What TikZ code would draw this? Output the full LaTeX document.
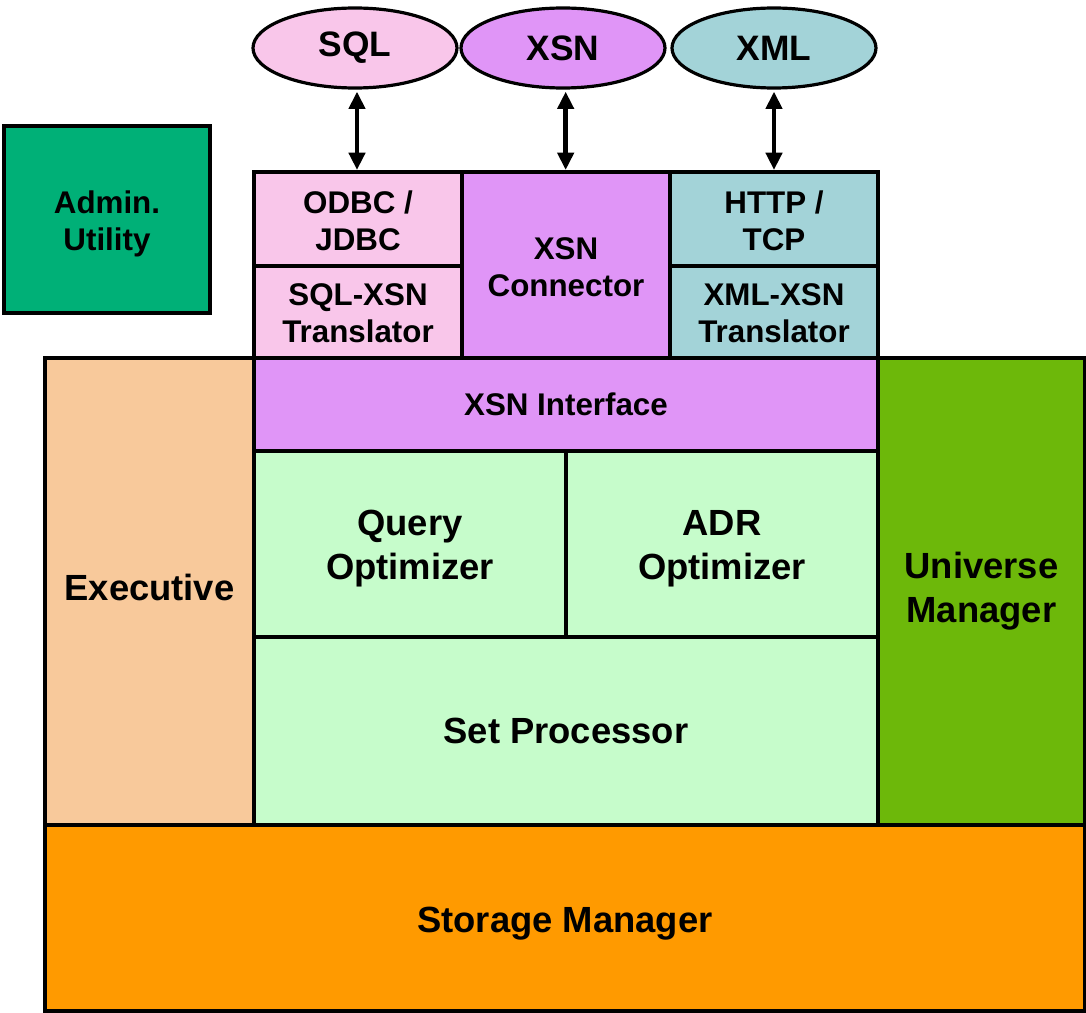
\documentclass[tikz,border=0pt]{standalone}
\usepackage{fontspec}
\setmainfont{Liberation Sans}
\usetikzlibrary{shapes.geometric,fit,arrows.meta}
\definecolor{cpink}{HTML}{F9C6EA}
\definecolor{cviolet}{HTML}{E095F7}
\definecolor{cteal}{HTML}{A3D3D8}
\definecolor{cadmin}{HTML}{00B077}
\definecolor{cexec}{HTML}{F8C99B}
\definecolor{clgreen}{HTML}{C6FCCB}
\definecolor{cuniv}{HTML}{6DB80A}
\definecolor{cstore}{HTML}{FF9A00}
\begin{document}
\begin{tikzpicture}[x=0.75pt,y=-0.75pt,
  blk/.style={draw=black, line width=2.4pt, inner sep=0pt, outer sep=0pt},
  smalltxt/.style={inner sep=0pt, align=center, font=\bfseries\fontsize{23.5}{27.8}\selectfont},
  bigtxt/.style={inner sep=0pt, align=center, font=\bfseries\fontsize{27.3}{33}\selectfont},
  oval/.style={draw=black, line width=2.4pt, ellipse, minimum width=153pt, minimum height=60pt, inner sep=0pt, font=\bfseries\fontsize{26.5}{30}\selectfont},
  dbl/.style={line width=3.6pt, {Triangle[width=12pt,length=13pt]}-{Triangle[width=12pt,length=13pt]}}]
\useasboundingbox (0,0) rectangle (1086,1013);
% ellipses
\node[oval, fill=cpink] (sql) at (355,48) {SQL};
\node[oval, fill=cviolet] (xsn) at (563,48) {XSN};
\node[oval, fill=cteal] (xml) at (774,48) {XML};
% admin
\node[blk, fill=cadmin, fit={(4,126)(210,313)}] (admin) {};
\node[smalltxt] (admintxt) at ([yshift=-3pt]admin.center) {Admin.\\Utility};
% big lower blocks
\node[blk, fill=cstore, fit={(45,825)(1085,1011)}] (store) {};
\node[bigtxt] (storetxt) at ([yshift=-4.5pt]store.center) {Storage Manager};
\node[blk, fill=cexec, fit={(45,358)(254,825)}] (exec) {};
\node[bigtxt] (exectxt) at ([yshift=3pt]exec.center) {Executive};
\node[blk, fill=cuniv, fit={(878,358)(1085,825)}] (univ) {};
\node[bigtxt] (univtxt) at (univ.center) {Universe\\Manager};
\node[blk, fill=clgreen, fit={(254,637)(878,825)}] (setp) {};
\node[bigtxt] (setptxt) at (setp.center) {Set Processor};
\node[blk, fill=clgreen, fit={(254,451)(566,637)}] (qopt) {};
\node[bigtxt] (qopttxt) at ([yshift=-3.5pt]qopt.center) {Query\\Optimizer};
\node[blk, fill=clgreen, fit={(566,451)(878,637)}] (adr) {};
\node[bigtxt] (adrtxt) at ([yshift=-3.5pt]adr.center) {ADR\\Optimizer};
\node[blk, fill=cviolet, fit={(254,358)(878,451)}] (xif) {};
\node[smalltxt] (xiftxt) at (xif.center) {XSN Interface};
% upper boxes
\node[blk, fill=cpink, fit={(254,172)(462,266)}] (odbc) {};
\node[smalltxt] (odbctxt) at ([yshift=-1.5pt]odbc.center) {ODBC /\\JDBC};
\node[blk, fill=cpink, fit={(254,266)(462,358)}] (sqlx) {};
\node[smalltxt] (sqlxtxt) at ([yshift=-1pt]sqlx.center) {SQL-XSN\\Translator};
\node[blk, fill=cviolet, fit={(462,172)(670,358)}] (conn) {};
\node[smalltxt] (conntxt) at ([yshift=-2pt]conn.center) {XSN\\Connector};
\node[blk, fill=cteal, fit={(670,172)(878,266)}] (http) {};
\node[smalltxt] (httptxt) at ([yshift=-1.5pt]http.center) {HTTP /\\TCP};
\node[blk, fill=cteal, fit={(670,266)(878,358)}] (xmlx) {};
\node[smalltxt] (xmlxtxt) at ([yshift=-1pt]xmlx.center) {XML-XSN\\Translator};
% arrows
\draw[dbl] ([xshift=1.5pt,yshift=-1.5pt]sql.south) -- ([xshift=1.5pt,yshift=1.5pt]sql.south |- odbc.north);
\draw[dbl] ([xshift=2pt,yshift=-1.5pt]xsn.south) -- ([xshift=2pt,yshift=1.5pt]xsn.south |- conn.north);
\draw[dbl] ([yshift=-1.5pt]xml.south) -- ([yshift=1.5pt]xml.south |- http.north);
\end{tikzpicture}
\end{document}
